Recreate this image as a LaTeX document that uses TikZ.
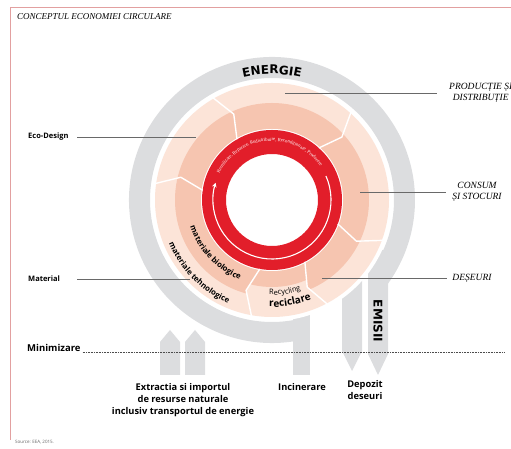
\documentclass[tikz,border=0pt]{standalone}
\usepackage{fontspec}
\setmainfont{Liberation Serif}
\newfontfamily\labelsans{Open Sans}
\newfontfamily\heavysans{DejaVu Sans}
\usetikzlibrary{arrows.meta,decorations.text}
\definecolor{energygray}{RGB}{220,221,223}
\definecolor{ringred}{RGB}{226,30,42}
\definecolor{peachdark}{RGB}{246,197,176}
\definecolor{peachlight}{RGB}{252,228,216}
\definecolor{leadgray}{RGB}{105,105,105}
\definecolor{framepink}{RGB}{226,160,160}

\begin{document}
\begin{tikzpicture}[x=1pt,y=1pt,
  pipe/.style={fill=energygray},
  seam/.style={draw=white,line width=1.4pt,line join=round},
  leader/.style={draw=leadgray,line width=0.7pt},
  dotline/.style={draw=black!70,line width=0.6pt,dash pattern=on 0.8pt off 0.8pt},
  sidelabel/.style={font=\itshape\fontsize{9.5}{11}\selectfont,align=center,inner sep=0pt},
  sidetag/.style={font=\labelsans\bfseries\fontsize{7.5}{9}\selectfont,text width=49pt,align=left,inner sep=0pt,anchor=west},
  flowlabel/.style={font=\labelsans\bfseries\fontsize{9.3}{12}\selectfont,align=center,inner sep=0pt}]

\useasboundingbox (0,0) rectangle (511,449);
\draw[framepink,line width=0.6pt] (10,9) -- (10,442) -- (511,442);

\begin{scope}[shift={(272,249)}]
\fill[pipe] (-36:122) arc[start angle=-36,end angle=283,radius=122] -- (283:143) arc[start angle=283,end angle=-36,radius=143] -- cycle;
\end{scope}
\fill[pipe] (160,74) -- (160,107) -- (170,119) -- (180,107) -- (180,74) -- cycle;
\fill[pipe] (185,74) -- (185,107) -- (195,119) -- (205,107) -- (205,74) -- cycle;
\fill[pipe] (293,74) rectangle (310,135);
\fill[pipe] (342,200) -- (342,98) -- (352,78) -- (362,98) -- (362,200) -- cycle;
\fill[pipe] (368,199) -- (368,95) -- (378,74) -- (388,95) -- (388,199) -- cycle;

\fill[white] (272,249) circle[radius=121];

\begin{scope}[shift={(272,249)}]
\fill[peachlight] (0,0) circle[radius=117];
\foreach \a/\b/\s in {172/120/97,120/48/97,48/-20/97,-20/-62/97,-62/-100/87,-100/-188/97}{
  \begin{scope}
  \clip (\a:71) arc[start angle=\a,end angle=\b,radius=71] -- ({\b-6}:94) -- (\b:117)
    arc[start angle=\b,end angle=\a,radius=117] -- ({\a-6}:94) -- cycle;
  \fill[peachdark] (0,0) circle[radius=\s];
  \end{scope}
}
\fill[white] (0,0) circle[radius=71];
\fill[ringred,even odd rule] (0,0) circle[radius=70] (0,0) circle[radius=46];
\foreach \b in {172,120,48,-20,-62,-100}
  \draw[seam] (\b:70) -- ({\b-6}:94) -- (\b:118);

\draw[white,line width=1.1pt,-{Stealth[length=4.5pt,width=4.5pt]}] (24:59) arc[start angle=24,end angle=-197,radius=59];
\path[decorate,decoration={text along path,text align=center,
  text={|\color{white}\fontsize{4.8}{4.8}\selectfont|Reutilizare, Reparare, Redistribuire, Recondiționare, Producere}}]
  (170:59) arc[start angle=170,end angle=18,radius=59];

\path[decorate,decoration={text along path,text align=center,
  text={|\heavysans\bfseries\fontsize{12}{12}\selectfont|ENERGIE}}]
  (118:126) arc[start angle=118,end angle=62,radius=126];
\path[decorate,decoration={text along path,text align=center,
  text={|\labelsans\bfseries\fontsize{7.8}{8}\selectfont|materiale biologice}}]
  (-168:86) arc[start angle=-168,end angle=-106,radius=86];
\path[decorate,decoration={text along path,text align=center,
  text={|\labelsans\bfseries\fontsize{7.8}{8}\selectfont|materiale tehnologice}}]
  (-163:112) arc[start angle=-163,end angle=-107,radius=112];
\path[decorate,decoration={text along path,text align=center,
  text={|\labelsans\fontsize{7.5}{7.5}\selectfont|Recycling}}]
  (-97:95) arc[start angle=-97,end angle=-67,radius=95];
\path[decorate,decoration={text along path,text align=center,
  text={|\labelsans\bfseries\fontsize{10}{10}\selectfont|reciclare}}]
  (-100:107) arc[start angle=-100,end angle=-60,radius=107];
\end{scope}

\node[anchor=west,inner sep=0pt,font=\itshape\fontsize{9}{10}\selectfont] (title) at (17,432) {CONCEPTUL ECONOMIEI CIRCULARE};

\node[sidelabel,anchor=west] (prod) at (449,356) {PRODUCȚIE ȘI\\DISTRIBUȚIE};
\node[sidelabel] (cons) at (477,257) {CONSUM\\ȘI STOCURI};
\node[sidelabel] (deseu) at (472,171) {DEȘEURI};
\coordinate (prodend) at (285,356);
\coordinate (consend) at (360,257);
\coordinate (deseuend) at (322,171);
\draw[leader] (prodend) -- ([xshift=-12pt]prod.west);
\draw[leader] (consend) -- ([xshift=-6pt]cons.west);
\draw[leader] (deseuend) -- ([xshift=-5pt]deseu.west);

\node[sidetag] (eco) at (28,312) {Eco-Design};
\node[sidetag] (mat) at (28,170) {Material};
\coordinate (ecoend) at (196,312);
\coordinate (matend) at (190,170);
\draw[leader] (eco.east) -- (ecoend);
\draw[leader] (mat.east) -- (matend);

\node[anchor=base west,inner sep=0pt,font=\labelsans\bfseries\fontsize{9.5}{10}\selectfont] (minim) at (27,97) {Minimizare};
\coordinate (minend) at (505,97);
\draw[dotline] ([xshift=2pt]minim.base east) -- (minend);

\node[rotate=-90,inner sep=0pt,font=\heavysans\bfseries\fontsize{12}{12}\selectfont] (emis) at (378,128) {EMISII};
\node[flowlabel] (extr) at (183,49) {Extractia si importul\\de resurse naturale\\inclusiv transportul de energie};
\node[flowlabel] (incin) at (302,62) {Incinerare};
\node[flowlabel] (depo) at (365,59) {Depozit\\deseuri};

\node[anchor=west,inner sep=0pt,text=black!60,font=\labelsans\fontsize{4.5}{5}\selectfont] (src) at (15,7) {Source: EEA, 2015.};
\end{tikzpicture}
\end{document}
